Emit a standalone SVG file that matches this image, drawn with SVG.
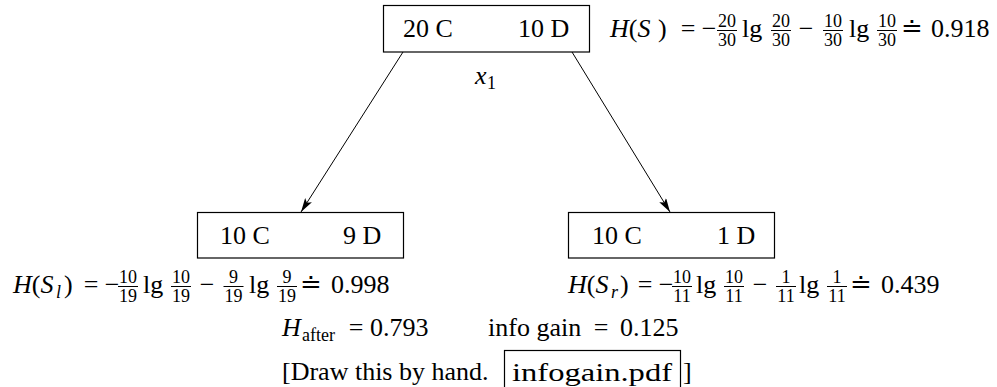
<svg xmlns="http://www.w3.org/2000/svg" width="997" height="387" viewBox="0 0 997 387">
<style>
text{font-family:"Liberation Serif","Times New Roman",serif;font-size:26px;fill:#000}
.i{font-style:italic}
.f{font-size:18px}
.m{text-anchor:middle}
.box{fill:#fff;stroke:#000;stroke-width:1.2}
.bar{stroke:#000;stroke-width:1}
.edge{stroke:#000;stroke-width:1;fill:none;marker-end:url(#ah)}
</style>
<defs>
<marker id="ah" viewBox="0 0 14 8" refX="14" refY="4" markerWidth="14" markerHeight="8" markerUnits="userSpaceOnUse" orient="auto">
<path d="M0,0 L14,4 L0,8 L3,4 Z" fill="#000"/>
</marker>
</defs>
<g id="connectors">
<line class="edge" x1="403" y1="52" x2="301" y2="212"/>
<line class="edge" x1="572" y1="52" x2="670" y2="212"/>
</g>
<g id="root">
<rect class="box" x="383.5" y="5.5" width="206" height="46.5"/>
<text x="403" y="37">20 C</text>
<text x="518" y="37">10 D</text>
<text class="i" x="475" y="84">x</text>
<text class="f" x="487" y="89">1</text>
</g>
<g id="left">
<rect class="box" x="197.5" y="212.5" width="206" height="45.5"/>
<text x="220" y="244">10 C</text>
<text x="343" y="244">9 D</text>
</g>
<g id="right">
<rect class="box" x="568.5" y="212.5" width="206" height="45.5"/>
<text x="592" y="244">10 C</text>
<text x="717" y="244">1 D</text>
</g>
<g id="hs">
<text x="610" y="37"><tspan class="i">H</tspan>(<tspan class="i">S</tspan></text>
<text x="658" y="37">)</text>
<text class="m" x="688" y="37">=</text>
<text class="m" x="709" y="37">−</text>
<text class="f m" x="727" y="27">20</text><line class="bar" x1="717" y1="30.5" x2="737" y2="30.5"/><text class="f m" x="727" y="46">30</text>
<text x="742" y="37">lg</text>
<text class="f m" x="781" y="27">20</text><line class="bar" x1="771" y1="30.5" x2="791" y2="30.5"/><text class="f m" x="781" y="46">30</text>
<text class="m" x="806" y="37">−</text>
<text class="f m" x="833" y="27">10</text><line class="bar" x1="823" y1="30.5" x2="843" y2="30.5"/><text class="f m" x="833" y="46">30</text>
<text x="849" y="37">lg</text>
<text class="f m" x="887" y="27">10</text><line class="bar" x1="877" y1="30.5" x2="897" y2="30.5"/><text class="f m" x="887" y="46">30</text>
<text class="m" x="912" y="37">≐</text>
<text x="931" y="37">0.918</text>
</g>
<g id="hsl">
<text x="13" y="293"><tspan class="i">H</tspan>(<tspan class="i">S</tspan></text>
<text class="f i" x="56" y="298">l</text>
<text x="64" y="293">)</text>
<text class="m" x="91" y="293">=</text>
<text class="m" x="112" y="293">−</text>
<text class="f m" x="128" y="283">10</text><line class="bar" x1="118" y1="286.5" x2="138" y2="286.5"/><text class="f m" x="128" y="302">19</text>
<text x="143" y="293">lg</text>
<text class="f m" x="181" y="283">10</text><line class="bar" x1="171" y1="286.5" x2="191" y2="286.5"/><text class="f m" x="181" y="302">19</text>
<text class="m" x="207" y="293">−</text>
<text class="f m" x="233.5" y="283">9</text><line class="bar" x1="223.5" y1="286.5" x2="243.5" y2="286.5"/><text class="f m" x="233.5" y="302">19</text>
<text x="249" y="293">lg</text>
<text class="f m" x="287" y="283">9</text><line class="bar" x1="277" y1="286.5" x2="297" y2="286.5"/><text class="f m" x="287" y="302">19</text>
<text class="m" x="311" y="293">≐</text>
<text x="331" y="293">0.998</text>
</g>
<g id="hsr">
<text x="568" y="293"><tspan class="i">H</tspan>(<tspan class="i">S</tspan></text>
<text class="f i" x="611" y="298">r</text>
<text x="620" y="293">)</text>
<text class="m" x="645" y="293">=</text>
<text class="m" x="666" y="293">−</text>
<text class="f m" x="682" y="283">10</text><line class="bar" x1="672" y1="286.5" x2="692" y2="286.5"/><text class="f m" x="682" y="302">11</text>
<text x="696" y="293">lg</text>
<text class="f m" x="734" y="283">10</text><line class="bar" x1="724" y1="286.5" x2="744" y2="286.5"/><text class="f m" x="734" y="302">11</text>
<text class="m" x="760" y="293">−</text>
<text class="f m" x="786" y="283">1</text><line class="bar" x1="776" y1="286.5" x2="796" y2="286.5"/><text class="f m" x="786" y="302">11</text>
<text x="799" y="293">lg</text>
<text class="f m" x="837" y="283">1</text><line class="bar" x1="827" y1="286.5" x2="847" y2="286.5"/><text class="f m" x="837" y="302">11</text>
<text class="m" x="861" y="293">≐</text>
<text x="881" y="293">0.439</text>
</g>
<g id="summary">
<text class="i" x="282" y="336">H</text>
<text class="f" x="302" y="341">after</text>
<text class="m" x="356" y="336">=</text>
<text x="370" y="336">0.793</text>
<text x="488" y="336">info gain</text>
<text class="m" x="601" y="336">=</text>
<text x="620" y="336">0.125</text>
<text x="282" y="380">[Draw this by hand.</text>
<rect x="504.5" y="350.5" width="176" height="45" fill="none" stroke="#000" stroke-width="1.2"/>
<text x="512" y="381" font-size="28" textLength="160" lengthAdjust="spacingAndGlyphs">infogain.pdf</text>
<text x="683" y="380">]</text>
</g>
</svg>
